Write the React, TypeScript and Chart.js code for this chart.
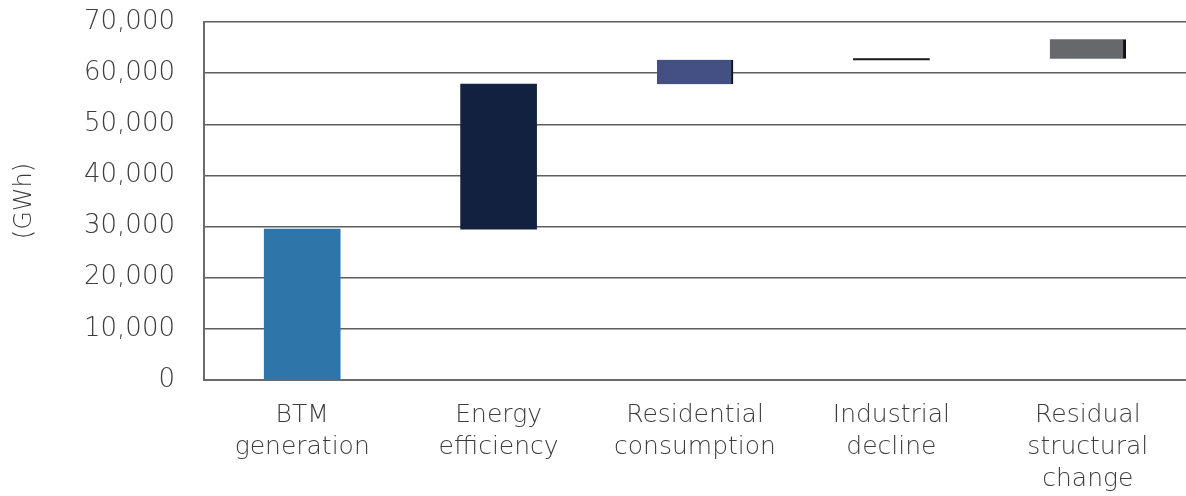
import React, { useEffect, useRef } from "react";
import { Chart, registerables } from "chart.js";

Chart.register(...registerables);

const categories: string[][] = [
  ["BTM", "generation"],
  ["Energy", "efficiency"],
  ["Residential", "consumption"],
  ["Industrial", "decline"],
  ["Residual", "structural", "change"],
];
const barStarts: number[] = [0, 29500, 57850, 62580, 62820];
const barEnds: number[] = [29500, 57850, 62600, 62850, 66650];
const barColors: string[] = ["#2E75AA", "#12213F", "#445084", "#1a1a1a", "#67686C"];
const edgeColors: string[] = ["#2E75AA", "#12213F", "#111111", "#1a1a1a", "#111111"];
const edgeWidths: number[] = [0, 0, 2, 0, 3];
const yTicks: number[] = [0, 10000, 20000, 30000, 40000, 50000, 60000, 70000];

export default function App() {
  const ref = useRef<HTMLCanvasElement | null>(null);
  useEffect(() => {
    document.body.style.margin = "0";
    const ctx = ref.current!;
    const chart = new Chart(ctx, {
      type: "bar",
      data: {
        labels: categories,
        datasets: [
          {
            data: barStarts.map((s, i) => [s, barEnds[i]]) as any,
            backgroundColor: barColors,
            borderColor: edgeColors,
            borderWidth: edgeWidths.map((w) => ({ top: 0, bottom: 0, left: 0, right: w })) as any,
            borderSkipped: false,
            barThickness: 76,
          },
        ],
      },
      options: {
        animation: false,
        responsive: false,
        maintainAspectRatio: false,
        layout: { padding: { top: 22, right: 0, left: 0, bottom: 0 } },
        plugins: { legend: { display: false }, tooltip: { enabled: false } },
        scales: {
          x: {
            grid: { display: false, drawTicks: false },
            border: { display: true, color: "#6a6a6a", width: 2 },
            ticks: {
              color: "#3c3c3c",
              font: { family: "DejaVu Sans", size: 25, weight: 300, lineHeight: 1.28 },
              padding: 19,
              maxRotation: 0,
              autoSkip: false,
            },
            afterFit: (s: any) => {
              s.height = 116;
            },
          },
          y: {
            min: 0,
            max: 70000,
            afterBuildTicks: (s: any) => {
              s.ticks = yTicks.map((v) => ({ value: v }));
            },
            grid: {
              color: "#5e5e5e",
              lineWidth: 1.5,
              drawTicks: true,
              tickLength: 29,
              tickColor: "rgba(0,0,0,0)",
            },
            border: { display: true, color: "#6a6a6a", width: 2 },
            ticks: {
              color: "#3c3c3c",
              font: { family: "DejaVu Sans", size: 26, weight: 300 },
              padding: 0,
              callback: (v: any) => Number(v).toLocaleString("en-US"),
            },
            title: {
              display: true,
              text: "(GWh)",
              color: "#3c3c3c",
              font: { family: "DejaVu Sans", size: 24, weight: 300 },
              padding: { top: 10, bottom: 0 },
            },
            afterFit: (s: any) => {
              s.width = 204;
            },
          },
        },
      },
    });
    return () => chart.destroy();
  }, []);
  return (
    <div style={{ width: 1186, height: 496 }}>
      <canvas ref={ref} width={1186} height={496} />
    </div>
  );
}
